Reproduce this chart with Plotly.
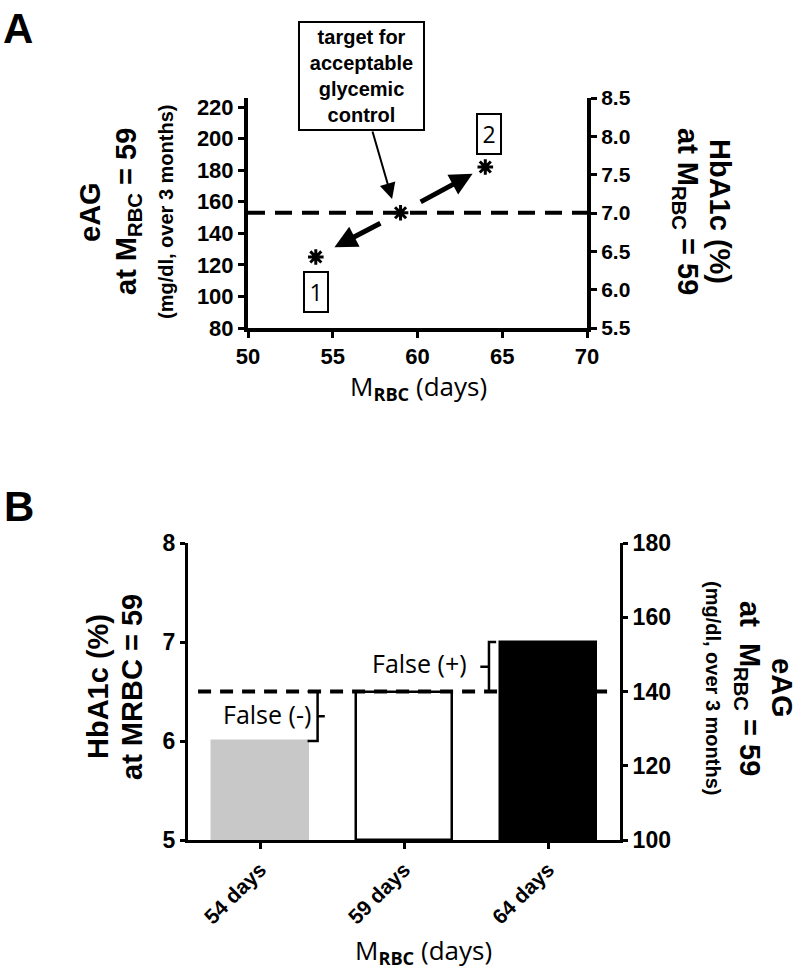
import plotly.graph_objects as go

# Panel A: eAG vs M_RBC
days_a = [54, 59, 64]
eag_a = [125, 153, 182]
target_eag = 153
a_xticks = [50, 55, 60, 65, 70]
a_left_ticks = [80, 100, 120, 140, 160, 180, 200, 220]
a_right_ticks = [5.5, 6.0, 6.5, 7.0, 7.5, 8.0, 8.5]

# Panel B: HbA1c bars
days_b = ["54 days", "59 days", "64 days"]
hba1c_b = [6.0, 6.5, 7.0]
bar_colors = ["#c8c8c8", "white", "black"]
threshold_b = 6.5
b_left_ticks = [5, 6, 7, 8]
b_right_ticks = [100, 120, 140, 160, 180]

# figure fills the whole window (body margin removed below)
W, H = 800, 971
def px(x): return x / W
def py(y): return 1 - y / H

BOLD = "Liberation Sans"
REG = "Open Sans"

fig = go.Figure()

# ---- panel A
fig.add_trace(go.Scatter(x=days_a, y=eag_a, mode="markers", xaxis="x", yaxis="y",
                         marker=dict(symbol="asterisk", size=13, color="black",
                                     line=dict(color="black", width=3)),
                         showlegend=False))
fig.add_trace(go.Scatter(x=[None], y=[None], xaxis="x", yaxis="y2", showlegend=False))

# ---- panel B
xb = list(range(len(days_b)))
fig.add_trace(go.Bar(x=xb, y=[v - 5 for v in hba1c_b], base=5, width=0.67,
                     xaxis="x2", yaxis="y3",
                     marker=dict(color=bar_colors,
                                 line=dict(color=["#c8c8c8", "black", "black"], width=2.5)),
                     showlegend=False))
fig.add_trace(go.Scatter(x=[-0.43, 2.43], y=[threshold_b, threshold_b], mode="lines",
                         xaxis="x2", yaxis="y3",
                         line=dict(color="black", width=4, dash="13px,9px"), showlegend=False))
fig.add_trace(go.Scatter(x=[None], y=[None], xaxis="x2", yaxis="y4", showlegend=False))

axis_common = dict(showline=True, linecolor="black", ticks="outside", tickcolor="black",
                   showgrid=False, zeroline=False, automargin=False)

fig.update_layout(
    width=W, height=H, margin=dict(l=0, r=0, t=0, b=0, autoexpand=False),
    plot_bgcolor="white", paper_bgcolor="white",
    bargap=0,
    xaxis=dict(domain=[px(248), px(587)], range=[50, 70], tickvals=a_xticks, anchor="y",
               linewidth=4, tickwidth=3, ticklen=6,
               tickfont=dict(family=BOLD, size=22, color="black", weight="bold"), **axis_common),
    yaxis=dict(domain=[py(328), py(98)], range=[80, 225.7], tickvals=a_left_ticks, anchor="x",
               linewidth=4, tickwidth=3, ticklen=6,
               tickfont=dict(family=BOLD, size=22, color="black", weight="bold"), **axis_common),
    yaxis2=dict(overlaying="y", side="right", anchor="x", range=[5.5, 8.5],
                tickvals=a_right_ticks, tickformat=".1f",
                linewidth=4, tickwidth=3, ticklen=6,
                tickfont=dict(family=BOLD, size=21, color="black", weight="bold"), **axis_common),
    xaxis2=dict(domain=[px(188), px(620)], range=[-0.5, 2.5], tickvals=xb, ticktext=days_b,
                anchor="y3", tickangle=-45, linewidth=3, tickwidth=3, ticklen=6,
                tickfont=dict(family=BOLD, size=21, color="black", weight="bold"), **axis_common),
    yaxis3=dict(domain=[py(840), py(543)], range=[5, 8], tickvals=b_left_ticks, anchor="x2",
                linewidth=3, tickwidth=3, ticklen=5,
                tickfont=dict(family=BOLD, size=23, color="black", weight="bold"), **axis_common),
    yaxis4=dict(overlaying="y3", side="right", anchor="x2", range=[100, 180],
                tickvals=b_right_ticks, linewidth=3, tickwidth=3, ticklen=5,
                tickfont=dict(family=BOLD, size=23, color="black", weight="bold"), **axis_common),
)

# dashed target line in A
fig.add_shape(type="line", xref="x domain", yref="y", x0=0, x1=1, y0=target_eag, y1=target_eag,
              line=dict(color="black", width=4, dash="17px,10px"))


# brackets in B
def bracket(x_line, x_cap, x_tick, y0, y1):
    ym = (y0 + y1) / 2
    path = (f"M {x_cap} {y0} L {x_line} {y0} L {x_line} {y1} L {x_cap} {y1} "
            f"M {x_line} {ym} L {x_tick} {ym}")
    fig.add_shape(type="path", path=path, xref="x2", yref="y3",
                  line=dict(color="black", width=2.5))


bracket(0.40, 0.33, 0.45, threshold_b, hba1c_b[0])
bracket(1.59, 1.64, 1.53, threshold_b, hba1c_b[2])

ann = []
# panel letters
ann.append(dict(text="<b>A</b>", x=px(1), y=py(28), xanchor="left", yanchor="middle",
                font=dict(family=BOLD, size=42, color="black")))
ann.append(dict(text="<b>B</b>", x=px(2), y=py(507), xanchor="left", yanchor="middle",
                font=dict(family=BOLD, size=42, color="black")))

# panel A titles
for txt, xx, sz in [("<b>eAG</b>", 90, 29), ("<b>at M<sub>RBC</sub> = 59</b>", 128, 29),
                    ("<b>(mg/dl, over 3 months)</b>", 166, 20)]:
    ann.append(dict(text=txt, x=px(xx), y=py(212), textangle=-90, xanchor="center",
                    yanchor="middle", font=dict(family=BOLD, size=sz, color="black")))
for txt, xx in [("<b>HbA1c (%)</b>", 720), ("<b>at M<sub>RBC</sub> = 59</b>", 686)]:
    ann.append(dict(text=txt, x=px(xx), y=py(211), textangle=90, xanchor="center",
                    yanchor="middle", font=dict(family=BOLD, size=29, color="black")))
ann.append(dict(text="M<sub><b>RBC</b></sub> (days)", x=px(418), y=py(387), xanchor="center",
                yanchor="middle", font=dict(family=REG, size=26, color="black")))

# text box + number boxes in A
ann.append(dict(text="<b>target for<br>acceptable<br>glycemic<br>control</b>", x=px(361), y=py(76),
                xanchor="center", yanchor="middle", bordercolor="black",
                borderwidth=2, borderpad=3, bgcolor="white", width=117,
                font=dict(family=BOLD, size=20, color="black")))
for label, xx, yy in [("1", 54, 103), ("2", 64.2, 203)]:
    ann.append(dict(text=label, x=xx, y=yy, xref="x", yref="y",
                    bordercolor="black", borderwidth=2, borderpad=3, width=16, height=32,
                    font=dict(family=REG, size=23, color="black")))


def interp(p, q, t):
    return p + (q - p) * t


# thin arrow from the text box, thick arrows from the target point to points 1 and 2
ann.append(dict(text="", x=58.5, y=161.7, ax=57.32, ay=205.4, xref="x", yref="y",
                axref="x", ayref="y", showarrow=True, arrowhead=2, arrowsize=1.6,
                arrowwidth=2, arrowcolor="black"))
for i, (t0, t1) in [(0, (0.22, 0.78)), (2, (0.22, 0.85))]:
    ann.append(dict(text="", xref="x", yref="y", axref="x", ayref="y", showarrow=True,
                    x=interp(days_a[1], days_a[i], t1), y=interp(eag_a[1], eag_a[i], t1),
                    ax=interp(days_a[1], days_a[i], t0), ay=interp(eag_a[1], eag_a[i], t0),
                    arrowhead=2, arrowsize=0.9, arrowwidth=5, arrowcolor="black"))

# panel B titles
for txt, xx in [("<b>HbA1c (%)</b>", 98), ("<b>at MRBC = 59</b>", 132)]:
    ann.append(dict(text=txt, x=px(xx), y=py(687), textangle=-90, xanchor="center",
                    yanchor="middle", font=dict(family=BOLD, size=29, color="black")))
for txt, xx, sz in [("<b>eAG</b>", 782, 29), ("<b>at  M<sub>RBC</sub> = 59</b>", 748, 29),
                    ("<b>(mg/dl, over 3 months)</b>", 713, 20)]:
    ann.append(dict(text=txt, x=px(xx), y=py(688), textangle=90, xanchor="center",
                    yanchor="middle", font=dict(family=BOLD, size=sz, color="black")))
ann.append(dict(text="M<sub><b>RBC</b></sub> (days)", x=px(423), y=py(951), xanchor="center",
                yanchor="middle", font=dict(family=REG, size=26, color="black")))

ann.append(dict(text="False (-)", x=0.37, y=6.27, xref="x2", yref="y3", xanchor="right",
                yanchor="middle", font=dict(family=REG, size=25, color="black")))
ann.append(dict(text="False (+)", x=1.45, y=6.79, xref="x2", yref="y3", xanchor="right",
                yanchor="middle", font=dict(family=REG, size=25, color="black")))

for a in ann:
    a.setdefault("xref", "paper")
    a.setdefault("yref", "paper")
    a.setdefault("showarrow", False)
    fig.add_annotation(**a)

fig.write_html("out.html", config={"displayModeBar": False},
               post_script="document.body.style.margin = '0';")
